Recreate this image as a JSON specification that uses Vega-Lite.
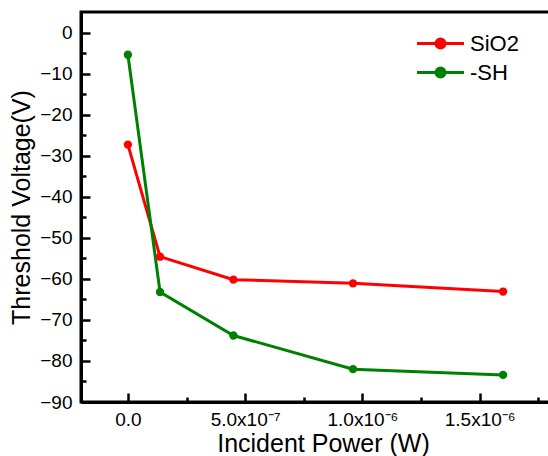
{
  "$schema": "https://vega.github.io/schema/vega-lite/v6.json",
  "width": 469,
  "height": 390,
  "autosize": {"type": "none"},
  "padding": {"left": 81, "top": 12, "right": 0, "bottom": 54},
  "background": "white",
  "config": {
    "font": "Liberation Sans",
    "view": {"stroke": "black", "strokeWidth": 3},
    "axis": {
      "grid": false,
      "domainColor": "black",
      "domainWidth": 3,
      "tickColor": "black",
      "tickWidth": 2.5,
      "labelColor": "black",
      "titleColor": "black",
      "labelFont": "Liberation Sans",
      "titleFont": "Liberation Sans",
      "titleFontWeight": "normal"
    },
    "legend": {"labelFont": "Liberation Sans"}
  },
  "data": {
    "values": [
      {"power": 0, "vth": -27.3, "series": "SiO2"},
      {"power": 1.37e-7, "vth": -54.6, "series": "SiO2"},
      {"power": 4.5e-7, "vth": -60.2, "series": "SiO2"},
      {"power": 9.6e-7, "vth": -61.1, "series": "SiO2"},
      {"power": 1.6e-6, "vth": -63.1, "series": "SiO2"},
      {"power": 0, "vth": -5.4, "series": "-SH"},
      {"power": 1.37e-7, "vth": -63.2, "series": "-SH"},
      {"power": 4.5e-7, "vth": -73.8, "series": "-SH"},
      {"power": 9.6e-7, "vth": -82.0, "series": "-SH"},
      {"power": 1.6e-6, "vth": -83.4, "series": "-SH"}
    ]
  },
  "resolve": {"axis": {"x": "independent", "y": "independent"}},
  "layer": [
    {
      "mark": {"type": "line", "strokeWidth": 3},
      "encoding": {
        "x": {
          "field": "power", "type": "quantitative",
          "scale": {"domain": [-2e-7, 1.8e-6], "nice": false, "zero": false},
          "axis": {
            "orient": "bottom",
            "values": [0, 5e-7, 1e-6, 1.5e-6],
            "labelExpr": "datum.value == 0 ? '0.0' : datum.value < 7e-7 ? '5.0x10⁻⁷' : datum.value < 1.2e-6 ? '1.0x10⁻⁶' : '1.5x10⁻⁶'",
            "ticks": false,
            "labelPadding": 8,
            "labelFontSize": 19,
            "labelFlush": false,
            "title": "Incident Power (W)",
            "titleFontSize": 25,
            "titlePadding": 2,
            "titleX": 242
          }
        },
        "y": {
          "field": "vth", "type": "quantitative",
          "scale": {"domain": [-90, 5], "nice": false, "zero": false},
          "axis": {
            "orient": "left",
            "values": [0, -10, -20, -30, -40, -50, -60, -70, -80, -90],
            "ticks": false,
            "labelPadding": 9,
            "labelFontSize": 19,
            "title": "Threshold Voltage(V)",
            "titleFontSize": 25,
            "titlePadding": 5
          }
        },
        "color": {
          "field": "series", "type": "nominal",
          "scale": {"domain": ["SiO2", "-SH"], "range": ["#ff0000", "#008000"]},
          "legend": {
            "orient": "none",
            "legendX": 346,
            "legendY": 18,
            "title": null,
            "symbolType": "M-2,0L2,0M-0.38,0A0.38,0.38 0 1,1 0.38,0A0.38,0.38 0 1,1 -0.38,0Z",
            "symbolSize": 552,
            "symbolStrokeWidth": 3,
            "labelFontSize": 22,
            "labelColor": "black",
            "labelOffset": 16,
            "rowPadding": 4
          }
        }
      }
    },
    {
      "mark": {"type": "point", "filled": true, "size": 70, "opacity": 1},
      "encoding": {
        "x": {"field": "power", "type": "quantitative", "axis": null},
        "y": {"field": "vth", "type": "quantitative", "axis": null},
        "color": {"field": "series", "type": "nominal"}
      }
    },
    {
      "mark": {"type": "point", "opacity": 0},
      "encoding": {
        "x": {
          "field": "power", "type": "quantitative",
          "axis": {"orient": "top", "offset": -390, "values": [0, 5e-7, 1e-6, 1.5e-6], "labels": false, "title": null, "tickSize": 9, "domain": false}
        },
        "y": {
          "field": "vth", "type": "quantitative",
          "axis": {"orient": "right", "offset": -469, "values": [0, -10, -20, -30, -40, -50, -60, -70, -80], "labels": false, "title": null, "tickSize": 9, "domain": false}
        }
      }
    },
    {
      "mark": {"type": "point", "opacity": 0},
      "encoding": {
        "x": {
          "field": "power", "type": "quantitative",
          "axis": {"orient": "top", "offset": -390, "values": [2.5e-7, 7.5e-7, 1.25e-6, 1.75e-6], "labels": false, "title": null, "tickSize": 5, "domain": false}
        },
        "y": {
          "field": "vth", "type": "quantitative",
          "axis": {"orient": "right", "offset": -469, "values": [-5, -15, -25, -35, -45, -55, -65, -75, -85], "labels": false, "title": null, "tickSize": 5, "domain": false}
        }
      }
    }
  ]
}
